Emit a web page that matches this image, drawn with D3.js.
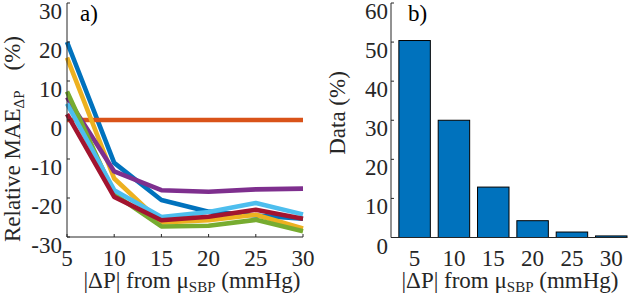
<!DOCTYPE html>
<html><head><meta charset="utf-8">
<script src="https://cdn.jsdelivr.net/npm/d3@7"></script>
<style>
body{margin:0;background:#fff;}
svg text{font-family:"Liberation Serif","Times New Roman",Times,serif;}
</style></head>
<body><svg id="c" width="628" height="296"></svg>
<script>
const xCats = [5, 10, 15, 20, 25, 30];
const xTickLabels = ["5", "10", "15", "20", "25", "30"];
const yTicksA = [-30, -20, -10, 0, 10, 20, 30];
const yTicksB = [0, 10, 20, 30, 40, 50, 60];
const seriesBlue      = [20, -11, -20.5, -23.5, -24.5, -25.3];
const seriesOrange    = [0, 0, 0, 0, 0, 0];
const seriesYellow    = [16, -15, -26.3, -25.7, -24.3, -27.8];
const seriesPurple    = [5.8, -13.2, -18, -18.4, -17.8, -17.6];
const seriesGreen     = [7.3, -19, -27.3, -27.1, -25.6, -28.5];
const seriesLightBlue = [4.2, -18, -24.9, -23.6, -21.3, -24.2];
const seriesDarkRed   = [1.5, -19.7, -25.7, -24.8, -23, -25.3];
const dataPct = [50.4, 30, 12.9, 4.3, 1.4, 0.4];

const series = [
  {v: seriesBlue, c: "#0072BD"},
  {v: seriesOrange, c: "#D95319"},
  {v: seriesYellow, c: "#EDB120"},
  {v: seriesPurple, c: "#7E2F8E"},
  {v: seriesGreen, c: "#77AC30"},
  {v: seriesLightBlue, c: "#4DBEEE"},
  {v: seriesDarkRed, c: "#A2142F"}
];

const svg = d3.select("#c");
const FONT = "Liberation Serif, Times New Roman, Times, serif";
const axisCol = "#262626";
const fs = 23;

function txt(g) { return g.append("text").attr("font-family", FONT); }

// ---------- Panel a ----------
const xA = d3.scaleLinear().domain([5, 30]).range([67, 303]);
const yA = d3.scaleLinear().domain([-30, 30]).range([237, 3]);
const gA = svg.append("g");

const line = d3.line().x((d, i) => xA(xCats[i])).y(d => yA(d));
series.forEach(s => {
  gA.append("path").attr("d", line(s.v)).attr("fill", "none")
    .attr("stroke", s.c).attr("stroke-width", 4.6).attr("stroke-linejoin", "round");
});

gA.append("line").attr("x1", 67).attr("x2", 67).attr("y1", yA(30)).attr("y2", yA(-30))
  .attr("stroke", axisCol).attr("stroke-width", 1);
gA.append("line").attr("x1", 67).attr("x2", xA(30)).attr("y1", yA(-30)).attr("y2", yA(-30))
  .attr("stroke", axisCol).attr("stroke-width", 1);
yTicksA.forEach(t => {
  gA.append("line").attr("x1", 67).attr("x2", 70).attr("y1", yA(t)).attr("y2", yA(t)).attr("stroke", axisCol);
  txt(gA).attr("x", 62).attr("y", yA(t) + 16).attr("text-anchor", "end")
    .attr("font-size", fs).attr("fill", axisCol).text(t);
});
xCats.forEach((t, i) => {
  gA.append("line").attr("x1", xA(t)).attr("x2", xA(t)).attr("y1", yA(-30)).attr("y2", yA(-30) - 3).attr("stroke", axisCol);
  txt(gA).attr("x", xA(t)).attr("y", 266).attr("text-anchor", "middle")
    .attr("font-size", fs).attr("fill", axisCol).text(xTickLabels[i]);
});
txt(gA).attr("x", 80).attr("y", 21).attr("font-size", fs).attr("fill", "#000").text("a)");

function xLabel(g, cx) {
  const t = txt(g).attr("x", cx).attr("y", 288).attr("text-anchor", "middle")
    .attr("font-size", fs).attr("fill", axisCol);
  t.append("tspan").text("|\u0394P| from \u03BC");
  t.append("tspan").attr("font-size", 15).attr("dy", 4).text("SBP");
  t.append("tspan").attr("dy", -4).text(" (mmHg)");
}
xLabel(gA, 192);

const yl = txt(gA).attr("transform", "translate(20,242) rotate(-90)")
  .attr("text-anchor", "start").attr("font-size", fs).attr("fill", axisCol);
yl.append("tspan").text("Relative MAE");
yl.append("tspan").attr("font-size", 15).attr("dy", 4).text("\u0394P");
txt(gA).attr("transform", "translate(20,36) rotate(-90)")
  .attr("text-anchor", "end").attr("font-size", fs).attr("fill", axisCol).text("(%)");

// ---------- Panel b ----------
const xB = d3.scaleLinear().domain([2, 32]).range([391, 627]);
const yB = d3.scaleLinear().domain([0, 60]).range([237.5, 3]);
const gB = svg.append("g");
const bw = xB(4) - xB(0);
gB.selectAll("rect").data(dataPct).enter().append("rect")
  .attr("x", (d, i) => xB(xCats[i]) - bw / 2)
  .attr("width", bw)
  .attr("y", d => yB(d))
  .attr("height", d => yB(0) - yB(d))
  .attr("fill", "#0072BD").attr("stroke", "#000").attr("stroke-width", 1);

gB.append("line").attr("x1", 391).attr("x2", 391).attr("y1", yB(60)).attr("y2", yB(0))
  .attr("stroke", axisCol);
gB.append("line").attr("x1", 391).attr("x2", 627).attr("y1", yB(0)).attr("y2", yB(0))
  .attr("stroke", axisCol);
yTicksB.forEach(t => {
  gB.append("line").attr("x1", 391).attr("x2", 394).attr("y1", yB(t)).attr("y2", yB(t)).attr("stroke", axisCol);
  txt(gB).attr("x", 388).attr("y", yB(t) + 16).attr("text-anchor", "end")
    .attr("font-size", fs).attr("fill", axisCol).text(t);
});
xCats.forEach((t, i) => {
  txt(gB).attr("x", xB(t)).attr("y", 266).attr("text-anchor", "middle")
    .attr("font-size", fs).attr("fill", axisCol).text(xTickLabels[i]);
});
txt(gB).attr("x", 408).attr("y", 21).attr("font-size", fs).attr("fill", "#000").text("b)");
xLabel(gB, 510);
txt(gB).attr("transform", "translate(345,113) rotate(-90)")
  .attr("text-anchor", "middle").attr("font-size", fs).attr("fill", axisCol).text("Data (%)");
</script></body></html>
